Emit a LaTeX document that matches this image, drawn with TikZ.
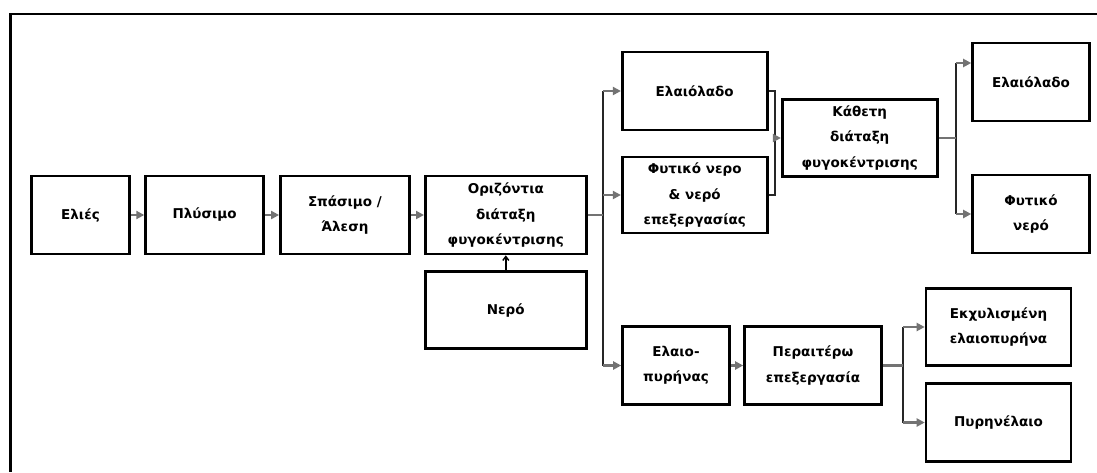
\documentclass[tikz,border=0pt]{standalone}
\usepackage{fontspec}
\setmainfont{DejaVu Sans}
\usetikzlibrary{arrows.meta}
\begin{document}
\begin{tikzpicture}[x=1pt,y=-1pt,
  box/.style={draw=black,line width=2.6pt,fill=white,inner sep=0pt,align=center,
    font=\bfseries\fontsize{13.5}{25.5}\selectfont},
  arr/.style={draw=black!55,line width=2.2pt,-{Triangle[length=8pt,width=8pt]}},
  link/.style={draw=black!55,line width=2.2pt},
  bus/.style={draw=black!85,line width=1.5pt}]
\useasboundingbox (0,0) rectangle (1097,472);
\fill[white] (0,0) rectangle (1097,472);
% frame
\coordinate (ftl) at (10.5,14);
\coordinate (ftr) at (1097,14);
\coordinate (fbl) at (10.5,472);
\draw[line width=2.5pt] (ftr) -- (ftl) -- (fbl);
% boxes
\node[box,minimum width=98pt,minimum height=78pt] (elies) at (80.5,215) {Ελιές};
\node[box,minimum width=118pt,minimum height=78pt] (plysimo) at (204.6,215) {Πλύσιμο};
\node[box,minimum width=129pt,minimum height=78pt] (spasimo) at (344.9,215) {Σπάσιμο /\\Άλεση};
\node[box,minimum width=161pt,minimum height=78pt] (oriz) at (505.8,215) {Οριζόντια\\διάταξη\\φυγοκέντρισης};
\node[box,minimum width=161pt,minimum height=77pt] (nero) at (505.8,310) {Νερό};
\node[box,minimum width=145pt,minimum height=78pt] (elaio1) at (694.7,91) {Ελαιόλαδο};
\node[box,minimum width=145pt,minimum height=76pt] (fytiko1) at (694.7,195) {Φυτικό νερο\\\& νερό\\επεξεργασίας};
\node[box,minimum width=155pt,minimum height=77pt] (kathet) at (859.7,138) {Κάθετη\\διάταξη\\φυγοκέντρισης};
\node[box,minimum width=117pt,minimum height=78pt] (elaio2) at (1031,82) {Ελαιόλαδο};
\node[box,minimum width=117pt,minimum height=78pt] (fytiko2) at (1031,214) {Φυτικό\\νερό};
\node[box,minimum width=107pt,minimum height=78pt] (pyrinas) at (676,365.5) {Ελαιο-\\πυρήνας};
\node[box,minimum width=137pt,minimum height=78pt] (perait) at (813,365.5) {Περαιτέρω\\επεξεργασία};
\node[box,minimum width=145pt,minimum height=77pt] (ekxyl) at (998.5,327) {Εκχυλισμένη\\ελαιοπυρήνα};
\node[box,minimum width=145pt,minimum height=78pt] (pyrinel) at (998.5,422.5) {Πυρηνέλαιο};
% main chain
\draw[arr] (elies.east) -- (plysimo.west);
\draw[arr] (plysimo.east) -- (spasimo.west);
\draw[arr] (spasimo.east) -- (oriz.west);
\draw[draw=black,line width=1.4pt,-{Straight Barb[length=4pt,width=6pt]}] (nero.north) -- (oriz.south);
% bus 1
\coordinate (b1t) at (603,91);
\coordinate (b1b) at (603,365.5);
\draw[bus] (b1t) -- (b1b);
\draw[link] (oriz.east) -- (oriz.east -| b1t);
\draw[arr] (b1t) -- (elaio1.west);
\draw[arr] (fytiko1.west -| b1t) -- (fytiko1.west);
\draw[arr] (b1b) -- (pyrinas.west);
% bus 2
\coordinate (b2) at (775,138);
\draw[bus] (elaio1.east) -| (b2);
\draw[bus] (fytiko1.east) -| (b2);
\draw[arr] (b2) -- (kathet.west);
% bus 3
\coordinate (b3t) at (956,63);
\coordinate (b3b) at (956,214);
\draw[bus] (b3t) -- (b3b);
\draw[link] (kathet.east) -- (kathet.east -| b3t);
\draw[arr] (b3t) -- (b3t -| elaio2.west);
\draw[arr] (b3b) -- (fytiko2.west);
% bus 4
\coordinate (b4t) at (903,327);
\coordinate (b4b) at (903,422.5);
\draw[bus] (b4t) -- (b4b);
\draw[link] (perait.east) -- (perait.east -| b4t);
\draw[arr] (b4t) -- (ekxyl.west);
\draw[arr] (b4b) -- (pyrinel.west);
\draw[arr] (pyrinas.east) -- (perait.west);
\end{tikzpicture}
\end{document}
